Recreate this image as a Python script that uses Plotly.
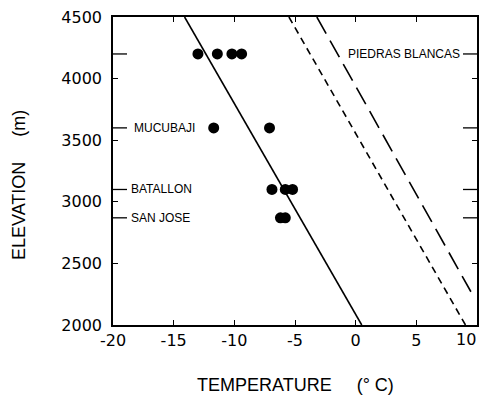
import plotly.graph_objects as go

# ---------------- data ----------------
site_names = ["PIEDRAS BLANCAS", "MUCUBAJI", "BATALLON", "SAN JOSE"]
site_elev = [4200, 3600, 3100, 2870]

pb_temp = [-13.0, -11.4, -10.2, -9.4]
muc_temp = [-11.7, -7.1]
bat_temp = [-6.9, -5.8, -5.2]
sj_temp = [-6.2, -5.8]

solid_temp = [-14.1, 0.5]
solid_elev = [4500, 2000]
short_temp = [-5.5, 9.05]
short_elev = [4500, 2000]
long_temp = [-3.2, 9.5]
long_elev = [4500, 2270]

x_ticks = [-20, -15, -10, -5, 0, 5, 10]
y_ticks = [2000, 2500, 3000, 3500, 4000, 4500]

# ---------------- figure ----------------
fig = go.Figure()

pts_x = pb_temp + muc_temp + bat_temp + sj_temp
pts_y = ([site_elev[0]] * len(pb_temp) + [site_elev[1]] * len(muc_temp)
         + [site_elev[2]] * len(bat_temp) + [site_elev[3]] * len(sj_temp))

fig.add_trace(go.Scatter(x=solid_temp, y=solid_elev, mode="lines",
                         line=dict(color="black", width=1.6), showlegend=False))
fig.add_trace(go.Scatter(x=short_temp, y=short_elev, mode="lines",
                         line=dict(color="black", width=1.6, dash="7px,5px"),
                         showlegend=False))
fig.add_trace(go.Scatter(x=long_temp, y=long_elev, mode="lines",
                         line=dict(color="black", width=1.6, dash="19px,8px"),
                         showlegend=False))
fig.add_trace(go.Scatter(x=pts_x, y=pts_y, mode="markers",
                         marker=dict(color="black", size=11), showlegend=False))

tick_font = dict(family="DejaVu Sans", size=16, color="black")

# last x label is drawn separately, right-aligned to the plot edge
x_ticktext = [str(v) for v in x_ticks[:-1]] + [""]

fig.update_layout(
    width=479, height=397,
    margin=dict(l=113, r=2, t=17, b=72, autoexpand=False),
    paper_bgcolor="white", plot_bgcolor="white",
    xaxis=dict(range=[-20, 10], tickvals=x_ticks, ticktext=x_ticktext,
               ticks="inside", ticklen=5, tickwidth=1.3, tickcolor="black",
               showline=True, linecolor="black", linewidth=1.6, mirror="ticks",
               showgrid=False, zeroline=False, tickfont=tick_font,
               ticklabelstandoff=0, automargin=False),
    yaxis=dict(range=[2000, 4500], tickvals=y_ticks,
               ticktext=[str(v) for v in y_ticks],
               ticks="inside", ticklen=5, tickwidth=1.3, tickcolor="black",
               showline=True, linecolor="black", linewidth=1.6, mirror="ticks",
               showgrid=False, zeroline=False, tickfont=tick_font,
               ticklabelstandoff=6, automargin=False),
)

fig.add_annotation(x=x_ticks[-1], y=0, xref="x", yref="paper",
                   text=str(x_ticks[-1]), showarrow=False,
                   xanchor="right", yanchor="top", xshift=1, yshift=-3,
                   font=tick_font)

# site ticks on both vertical axes (14 px long, pointing inward)
tick_frac = 14 / (479 - 113 - 2)
for elev in site_elev:
    fig.add_shape(type="line", xref="paper", yref="y", x0=0, x1=tick_frac,
                  y0=elev, y1=elev, line=dict(color="black", width=1.3))
    fig.add_shape(type="line", xref="paper", yref="y", x0=1 - tick_frac, x1=1,
                  y0=elev, y1=elev, line=dict(color="black", width=1.3))

label_font = dict(family="Liberation Sans", size=12, color="black")
# site labels
fig.add_annotation(x=10, y=site_elev[0], xref="x", yref="y", text=site_names[0],
                   showarrow=False, xanchor="right", yanchor="middle",
                   xshift=-15, font=label_font)
for name, elev, shift in zip(site_names[1:], site_elev[1:], [19, 16, 16]):
    fig.add_annotation(x=-20, y=elev, xref="x", yref="y", text=name,
                       showarrow=False, xanchor="left", yanchor="middle",
                       xshift=shift, font=label_font)

title_font = dict(family="Liberation Sans", size=18, color="black")
nb = "\u00a0"
fig.add_annotation(x=0.5, y=0, xref="paper", yref="paper",
                   text="TEMPERATURE" + nb * 5 + "(°" + nb + "C)",
                   showarrow=False, xanchor="center", yanchor="middle",
                   yshift=-60, font=title_font)
fig.add_annotation(x=0, y=0.4545, xref="paper", yref="paper",
                   text="ELEVATION" + nb * 5 + "(m)", textangle=-90,
                   showarrow=False, xanchor="center", yanchor="middle",
                   xshift=-94, font=title_font)

fig.write_html("out.html")
